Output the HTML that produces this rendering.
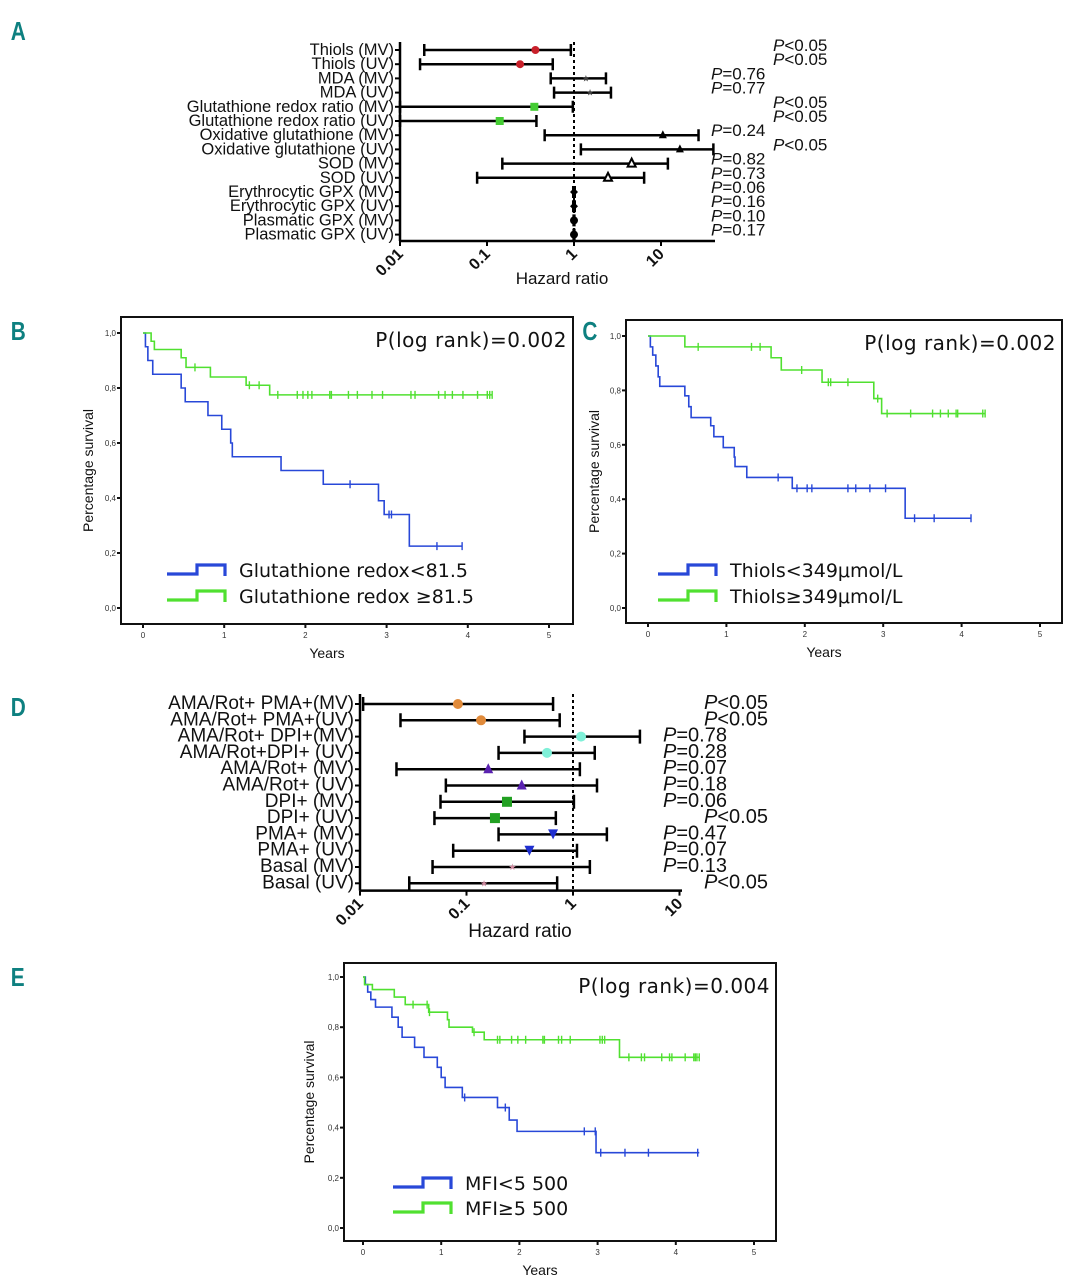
<!DOCTYPE html>
<html><head><meta charset="utf-8"><style>
body{margin:0;background:#fff}
svg{display:block;font-family:"Liberation Sans",sans-serif}
.pl{font-family:"Liberation Sans",sans-serif;font-weight:bold;fill:#0e8080;font-size:26px}
</style></head><body>
<svg id="s" width="1074" height="1280" viewBox="0 0 1074 1280" xmlns="http://www.w3.org/2000/svg">
<text class="pl" x="11" y="40" transform="scale(0.8,1) translate(2.5,0)">A</text>
<text class="pl" x="11" y="340" transform="scale(0.8,1) translate(2.5,0)">B</text>
<text class="pl" x="728" y="340" transform="scale(0.8,1)">C</text>
<text class="pl" x="11" y="716" transform="scale(0.8,1) translate(2.5,0)">D</text>
<text class="pl" x="11" y="986" transform="scale(0.8,1) translate(2.5,0)">E</text>
</svg>
<script>
// ---------- Panel A data ----------
const aLabels=["Thiols (MV)","Thiols (UV)","MDA (MV)","MDA (UV)","Glutathione redox ratio (MV)","Glutathione redox ratio (UV)","Oxidative glutathione (MV)","Oxidative glutathione (UV)","SOD (MV)","SOD (UV)","Erythrocytic GPX (MV)","Erythrocytic GPX (UV)","Plasmatic GPX (MV)","Plasmatic GPX (UV)"];
const aHR=[0.36,0.24,1.37,1.53,0.35,0.14,10.5,16.5,4.6,2.46,1,1,1,1];
const aLo=[0.019,0.017,0.54,0.59,0.01,0.01,0.46,1.2,0.15,0.077,0.98,0.98,0.99,0.99];
const aHi=[0.92,0.57,2.33,2.66,0.97,0.37,27,40,12,6.4,1.02,1.02,1.01,1.01];
const aP=["<0.05","<0.05","=0.76","=0.77","<0.05","<0.05","=0.24","<0.05","=0.82","=0.73","=0.06","=0.16","=0.10","=0.17"];
const aMarker=["circle","circle","star","star","square","square","tri","tri","otri","otri","diamond","diamond","circle","circle"];
const aColor=["#c8202a","#c8202a","#444","#444","#44cc33","#44cc33","#000","#000","#000","#000","#000","#000","#000","#000"];
const aTicks=[0.01,0.1,1,10];
const aTickLabels=["0.01","0.1","1","10"];
// ---------- Panel D data ----------
const dLabels=["AMA/Rot+ PMA+(MV)","AMA/Rot+ PMA+(UV)","AMA/Rot+ DPI+(MV)","AMA/Rot+DPI+ (UV)","AMA/Rot+ (MV)","AMA/Rot+ (UV)","DPI+ (MV)","DPI+ (UV)","PMA+ (MV)","PMA+ (UV)","Basal (MV)","Basal (UV)"];
const dHR=[0.083,0.137,1.19,0.57,0.16,0.33,0.24,0.185,0.65,0.39,0.27,0.146];
const dLo=[0.0107,0.024,0.35,0.2,0.022,0.064,0.057,0.05,0.2,0.075,0.048,0.029];
const dHi=[0.65,0.75,4.25,1.6,1.16,1.68,1.02,0.69,2.08,1.09,1.44,0.71];
const dP=["<0.05","<0.05","=0.78","=0.28","=0.07","=0.18","=0.06","<0.05","=0.47","=0.07","=0.13","<0.05"];
const dMarker=["circle","circle","circle","circle","tri","tri","square","square","itri","itri","star","star"];
const dColor=["#e08a3a","#e08a3a","#7ff0d8","#7ff0d8","#5a22b0","#5a22b0","#22a022","#22a022","#1f2fd0","#1f2fd0","#d08aa0","#d08aa0"];
const dTicks=[0.01,0.1,1,10];
const dTickLabels=["0.01","0.1","1","10"];
// ---------- KM data ----------
const kmYTicks=[0,0.2,0.4,0.6,0.8,1.0];
const kmYTickLabels=["0,0","0,2","0,4","0,6","0,8","1,0"];
const kmXTicks=[0,1,2,3,4,5];
const bBlueT=[0.03,0.06,0.12,0.47,0.52,0.80,0.97,1.08,1.1,1.7,2.22,2.9,2.97,3.28];
const bBlueS=[0.95,0.90,0.85,0.80,0.75,0.70,0.65,0.60,0.55,0.50,0.45,0.39,0.34,0.225];
const bBlueEnd=3.93;
const bBlueC=[2.55,3.03,3.06,3.62,3.93];
const bGreenT=[0.1,0.14,0.47,0.53,0.83,1.27,1.56];
const bGreenS=[0.97,0.94,0.91,0.875,0.84,0.81,0.775];
const bGreenEnd=4.3;
const bGreenC=[0.64,1.31,1.43,1.66,1.9,1.97,2.03,2.08,2.3,2.32,2.53,2.64,2.82,2.95,3.3,3.35,3.64,3.72,3.81,3.94,4.12,4.24,4.27,4.3];
const cBlueT=[0.03,0.06,0.1,0.13,0.15,0.47,0.52,0.55,0.8,0.84,0.96,1.1,1.11,1.26,1.84,3.28];
const cBlueS=[0.96,0.93,0.89,0.85,0.815,0.78,0.74,0.70,0.67,0.63,0.59,0.555,0.52,0.48,0.44,0.33];
const cBlueEnd=4.12;
const cBlueC=[1.66,1.9,2.03,2.09,2.55,2.65,2.83,3.03,3.4,3.65,4.12];
const cGreenT=[0.47,1.57,1.7,2.22,2.88,2.98];
const cGreenS=[0.96,0.92,0.875,0.83,0.77,0.715];
const cGreenEnd=4.3;
const cGreenC=[0.64,1.32,1.43,1.96,2.3,2.33,2.55,2.93,3.05,3.35,3.63,3.73,3.83,3.93,3.95,4.27,4.3];
const eBlueT=[0.03,0.06,0.1,0.16,0.37,0.45,0.5,0.66,0.78,0.95,1.0,1.05,1.27,1.72,1.87,1.97,2.98];
const eBlueS=[0.97,0.94,0.91,0.88,0.84,0.80,0.76,0.72,0.68,0.64,0.60,0.56,0.52,0.48,0.43,0.385,0.30];
const eBlueEnd=4.3;
const eBlueC=[1.3,1.82,2.83,2.97,3.04,3.35,3.65,4.28];
const eGreenT=[0.02,0.12,0.4,0.54,0.84,1.08,1.1,1.4,1.55,3.28];
const eGreenS=[0.97,0.95,0.92,0.89,0.86,0.83,0.80,0.78,0.75,0.68];
const eGreenEnd=4.3;
const eGreenC=[0.64,0.82,0.85,1.42,1.72,1.75,1.9,1.98,2.08,2.3,2.32,2.5,2.54,2.65,3.03,3.06,3.09,3.4,3.56,3.6,3.82,3.92,3.95,4.12,4.23,4.25,4.27,4.3];

const S=document.getElementById('s');
const NS='http://www.w3.org/2000/svg';
function mk(tag,attrs,parent){const e=document.createElementNS(NS,tag);for(const k in attrs)e.setAttribute(k,attrs[k]);(parent||S).appendChild(e);return e;}
function txt(x,y,s,size,anchor,parent,extra){const t=mk('text',Object.assign({x:x,y:y,'font-size':size,'text-anchor':anchor||'start',fill:'#111'},extra||{}),parent);t.textContent=s;return t;}

function marker(g,type,x,y,col,r){
  let m;
  if(type==='circle') m=mk('circle',{cx:x,cy:y,r:r,fill:col},g);
  else if(type==='square') m=mk('rect',{x:x-r,y:y-r,width:2*r,height:2*r,fill:col},g);
  else if(type==='tri') m=mk('polygon',{points:`${x},${y-r-1} ${x-r},${y+r-1} ${x+r},${y+r-1}`,fill:col},g);
  else if(type==='otri') m=mk('polygon',{points:`${x},${y-r-1} ${x-r},${y+r-1} ${x+r},${y+r-1}`,fill:'#fff',stroke:col,'stroke-width':2},g);
  else if(type==='itri') m=mk('polygon',{points:`${x},${y+r} ${x-r},${y-r} ${x+r},${y-r}`,fill:col},g);
  else if(type==='diamond') m=mk('polygon',{points:`${x},${y-r} ${x+r},${y} ${x},${y+r} ${x-r},${y}`,fill:col},g);
  else m=mk('text',{x:x,y:y+3,'font-size':9,'text-anchor':'middle',fill:col},g),m.textContent='★';
  return m;
}

function forest(cfg){
  const g=mk('g',{});
  
  
  const xs=v=>cfg.x001+(Math.log10(v)+2)*cfg.dec;
  const ys=i=>cfg.y0+i*cfg.step;
  const n=cfg.labels.length;
  const bottom=ys(n-1)+cfg.step*0.45;
  const dl=mk('line',{x1:xs(1),x2:xs(1),y1:cfg.top,y2:bottom,stroke:'#000','stroke-width':2,'stroke-dasharray':'3,3'},g);
  
  
  const ya=mk('line',{x1:cfg.x001,x2:cfg.x001,y1:cfg.top,y2:bottom,stroke:'#000','stroke-width':2.5},g);
  
  
  const xa=mk('line',{x1:cfg.x001,x2:cfg.xend,y1:bottom,y2:bottom,stroke:'#000','stroke-width':2.5},g);
  
  
  cfg.ticks.forEach((t,i)=>{
    const x=xs(t);
    mk('line',{x1:x,x2:x,y1:bottom,y2:bottom+5,stroke:'#000','stroke-width':2},g);
    const tl=txt(x+4,bottom+14,cfg.tickLabels[i],cfg.tickSize,'end',g,{'font-weight':'bold',transform:`rotate(-45 ${x+4} ${bottom+14})`});
    
    
  });
  const xt=txt(cfg.titleX,cfg.titleY,'Hazard ratio',cfg.titleFs,'middle',g);
  
  
  for(let i=0;i<n;i++){
    const y=ys(i);
    mk('line',{x1:cfg.x001-5,x2:cfg.x001,y1:y,y2:y,stroke:'#000','stroke-width':2},g);
    const lb=txt(cfg.x001-6,y+5,cfg.labels[i],cfg.fs,'end',g);
    
    
    const x1=xs(cfg.lo[i]),x2=xs(cfg.hi[i]);
    const ci=mk('path',{d:`M${x1},${y}H${x2}M${x1},${y-cfg.cap}V${y+cfg.cap}M${x2},${y-cfg.cap}V${y+cfg.cap}`,stroke:'#000','stroke-width':2.5,fill:'none'},g);
    
    
    const m=marker(g,cfg.marker[i],xs(cfg.hr[i]),y,cfg.color[i],cfg.mr);
    
    
    const less=cfg.p[i][0]==='<';
    const px=less?cfg.pxLess:cfg.pxEq;
    const pt=mk('text',{x:px,y:y-3+(cfg.pShift||0),'font-size':cfg.pfs,fill:'#111'},g);
    
    
    const ti=mk('tspan',{'font-style':'italic'},pt);ti.textContent='P';
    const t2=mk('tspan',{},pt);t2.textContent=cfg.p[i];
  }
}
forest({name:'forest-plot-a',labels:aLabels,hr:aHR,lo:aLo,hi:aHi,p:aP,marker:aMarker,color:aColor,ticks:aTicks,tickLabels:aTickLabels,
  x001:400,dec:87,xend:715,y0:50,step:14.2,top:42,fs:16.5,pfs:17,titleFs:17,tickSize:16,cap:6,mr:4,pxLess:773,pxEq:711,pShift:4,titleX:562,titleY:284});
forest({name:'forest-plot-d',labels:dLabels,hr:dHR,lo:dLo,hi:dHi,p:dP,marker:dMarker,color:dColor,ticks:dTicks,tickLabels:dTickLabels,
  x001:360,dec:106.5,xend:682,y0:704,step:16.3,top:694,fs:19,pfs:20,titleFs:19,tickSize:16,cap:7,mr:5,pxLess:704,pxEq:663,pShift:8,titleX:520,titleY:937});

function km(cfg){
  const g=mk('g',{});
  
  
  const xs=v=>cfg.x0+v*cfg.ppy;
  const ys=v=>cfg.yb+(cfg.yt-cfg.yb)*v;
  const box=mk('rect',{x:cfg.bx,y:cfg.by,width:cfg.bw,height:cfg.bh,fill:'none',stroke:'#111','stroke-width':2},g);
  
  
  kmYTicks.forEach((t,i)=>{
    const y=ys(t);
    mk('line',{x1:cfg.bx-4,x2:cfg.bx,y1:y,y2:y,stroke:'#111','stroke-width':2},g);
    const l=txt(cfg.bx-5,y+3,kmYTickLabels[i],8,'end',g,{fill:'#333'});
    
    
  });
  kmXTicks.forEach(t=>{
    const x=xs(t);
    mk('line',{x1:x,x2:x,y1:cfg.by+cfg.bh,y2:cfg.by+cfg.bh+4,stroke:'#111','stroke-width':2},g);
    const l=txt(x,cfg.by+cfg.bh+14,String(t),8,'middle',g,{fill:'#333'});
    
    
  });
  const xt=txt(cfg.bx+cfg.bw/2-20,cfg.by+cfg.bh+34,'Years',14,'middle',g);
  
  
  const yc=cfg.by+cfg.bh/2;
  const yt=txt(cfg.ylx,yc,'Percentage survival',14,'middle',g,{transform:`rotate(-90 ${cfg.ylx} ${yc})`});
  
  
  const pl=txt(cfg.bx+cfg.bw-6,cfg.by+30,cfg.plog,20,'end',g,{'font-family':'DejaVu Sans, sans-serif','letter-spacing':'0.5'});
  
  
  cfg.series.forEach(s=>{
    let d=`M${xs(0)},${ys(1)}`;
    s.t.forEach((t,i)=>{d+=`H${xs(t)}V${ys(s.s[i])}`;});
    d+=`H${xs(s.end)}`;
    const p=mk('path',{d:d,stroke:s.col,'stroke-width':1.6,fill:'none'},g);
    
    
    s.c.forEach(c=>{
      let v=1;s.t.forEach((t,i)=>{if(t<=c)v=s.s[i];});
      const m=mk('line',{x1:xs(c),x2:xs(c),y1:ys(v)-4,y2:ys(v)+4,stroke:s.col,'stroke-width':1.4},g);
      
      
    });
  });
  cfg.series.forEach((s,i)=>{
    const ly=cfg.legY+i*cfg.legStep;const lx=cfg.legX;
    const ic=mk('path',{d:`M${lx},${ly+4}H${lx+30}V${ly-5}H${lx+58}V${ly+6}`,stroke:s.col,'stroke-width':3.2,fill:'none'},g);
    
    
    const lt=txt(lx+72,ly+7,s.label,cfg.legFs,'start',g,{'font-family':'DejaVu Sans, sans-serif'});
    
    
  });
}
const BLUE='#2848d8',GREEN='#50e030';
km({name:'km-plot-b',bx:121,by:317,bw:452,bh:307,x0:143,ppy:81.2,yt:333,yb:608,ylx:93,plog:'P(log rank)=0.002',legX:167,legY:570,legStep:26,legFs:19,
  series:[{name:'glutathione-low',col:BLUE,t:bBlueT,s:bBlueS,end:bBlueEnd,c:bBlueC,label:'Glutathione redox<81.5'},
          {name:'glutathione-high',col:GREEN,t:bGreenT,s:bGreenS,end:bGreenEnd,c:bGreenC,label:'Glutathione redox ≥81.5'}]});
km({name:'km-plot-c',bx:626,by:320,bw:436,bh:303,x0:648,ppy:78.4,yt:336,yb:608,ylx:599,plog:'P(log rank)=0.002',legX:658,legY:570,legStep:26,legFs:19,
  series:[{name:'thiols-low',col:BLUE,t:cBlueT,s:cBlueS,end:cBlueEnd,c:cBlueC,label:'Thiols<349μmol/L'},
          {name:'thiols-high',col:GREEN,t:cGreenT,s:cGreenS,end:cGreenEnd,c:cGreenC,label:'Thiols≥349μmol/L'}]});
km({name:'km-plot-e',bx:344,by:963,bw:432,bh:278,x0:363,ppy:78.2,yt:977,yb:1228,ylx:314,plog:'P(log rank)=0.004',legX:393,legY:1183,legStep:25,legFs:19,
  series:[{name:'mfi-low',col:BLUE,t:eBlueT,s:eBlueS,end:eBlueEnd,c:eBlueC,label:'MFI<5 500'},
          {name:'mfi-high',col:GREEN,t:eGreenT,s:eGreenS,end:eGreenEnd,c:eGreenC,label:'MFI≥5 500'}]});
</script>
</body></html>
